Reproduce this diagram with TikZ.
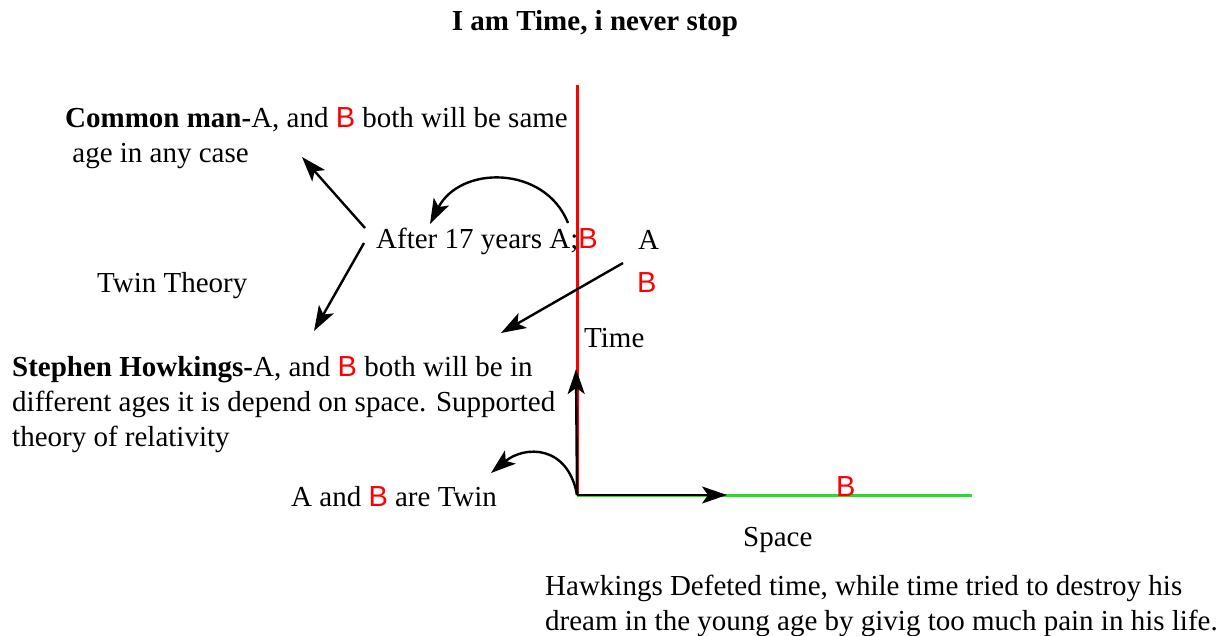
\documentclass[tikz,border=0pt]{standalone}
\usepackage{fontspec}
\setmainfont{Liberation Serif}
\newfontfamily\bfont{Liberation Sans}
\usetikzlibrary{arrows.meta}
\definecolor{tred}{RGB}{255,0,0}
\definecolor{tgreen}{RGB}{40,220,40}
\newcommand{\rB}{\textcolor{tred}{\bfont B}}
\tikzset{
  txt/.style={inner sep=0pt, anchor=base west, font=\fontsize{29}{35}\selectfont, align=left},
  arr/.style={draw=black, line width=2.4pt, -{Stealth[length=25pt,width=17pt,inset=6pt]}},
}
\begin{document}
\begin{tikzpicture}[x=1pt,y=-1pt]
\useasboundingbox (0,0) rectangle (1231,636);
% axes
\coordinate (O) at (577,495);
\coordinate (Ttop) at (577,85);
\coordinate (Send) at (972,495);
\draw[tred, line width=3pt] (O) -- (Ttop);
\draw[tgreen, line width=3pt] (O) -- (Send);
\coordinate (Tup) at (576,369);
\coordinate (Sright) at (727,495);
\draw[arr] (O) -- (Tup);
\draw[arr] (O) -- (Sright);
% texts
\node[txt, font=\fontsize{29}{35}\selectfont\bfseries, anchor=base] (title) at (595,31) {I am Time, i never stop};
\node[txt] (common) at (65,163) {\textbf{Common man-}A, and \rB{} both will be same\\\ age in any case};
\node[txt] (after) at (376,249) {After 17 years A;\rB};
\node[txt] (A) at (638,250) {A};
\node[txt] (B) at (637,293) {\rB};
\node[txt] (twin) at (97,293) {Twin Theory};
\node[txt] (time) at (584,347) {Time};
\node[txt] (stephen) at (12,446) {\textbf{Stephen Howkings-}A, and \rB{} both will be in\\different ages it is depend on space. Supported\\theory of relativity};
\node[txt] (abtwin) at (291,506) {A and \rB{} are Twin};
\node[txt] (Bspace) at (836,496) {\rB};
\node[txt] (space) at (743,546) {Space};
\node[txt] (hawk) at (545,630) {Hawkings Defeted time, while time tried to destroy his\\dream in the young age by givig too much pain in his life.};
% connectors
\coordinate (c1s) at (568,223);
\coordinate (c1e) at (430,224);
\draw[arr] (c1s) .. controls (545,165) and (460,165) .. (c1e);
\coordinate (c2s) at (623,263);
\coordinate (c2e) at (501,333);
\draw[arr] (c2s) -- (c2e);
\coordinate (c3s) at (365,228);
\coordinate (c3e) at (302,157);
\draw[arr] (c3s) -- (c3e);
\coordinate (c4s) at (364,243);
\coordinate (c4e) at (314,331);
\draw[arr] (c4s) -- (c4e);
\coordinate (c5e) at (491,473);
\draw[arr] (O) .. controls (568,445) and (525,445) .. (c5e);
\end{tikzpicture}
\end{document}
